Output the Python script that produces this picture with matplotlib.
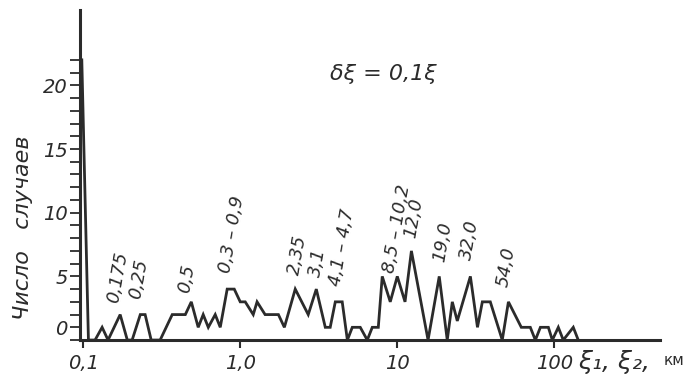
import numpy as np
import matplotlib
matplotlib.use("Agg")
import matplotlib.pyplot as plt
from matplotlib.transforms import ScaledTranslation

# ширина трещин (км) и число случаев
xi = [0.098, 0.108, 0.119, 0.132, 0.144, 0.172, 0.191, 0.205, 0.231, 0.248,
      0.271, 0.309, 0.369, 0.447, 0.488, 0.540, 0.581, 0.626, 0.693, 0.746,
      0.826, 0.916, 1.0, 1.076, 1.21, 1.28, 1.44, 1.75, 1.91, 2.24,
      2.71, 3.05, 3.48, 3.74, 4.03, 4.46, 4.81, 5.17, 5.81, 6.44,
      6.93, 7.57, 8.02, 9.02, 10.0, 11.2, 12.3, 15.7, 18.5, 20.8,
      22.4, 24.1, 29.2, 32.4, 34.8, 39.1, 46.6, 51.0, 61.6, 70.3,
      75.7, 81.5, 91.6, 97.1, 106, 114, 132, 142]
counts = [22, 0, 0, 1, 0, 2, 0, 0, 2, 2,
          0, 0, 2, 2, 3, 1, 2, 1, 2, 1,
          4, 4, 3, 3, 2, 3, 2, 2, 1, 4,
          2, 4, 1, 1, 3, 3, 0, 1, 1, 0,
          1, 1, 5, 3, 5, 3, 7, 0, 5, 0,
          3, 1.5, 5, 1, 3, 3, 0, 3, 1, 1,
          0, 1, 1, 0, 1, 0, 1, 0]

# подписи пиков
peak_labels = ['0,175', '0,25', '0,5', '0,3 – 0,9', '2,35', '3,1', '4,1 – 4,7',
               '8,5 – 10,2', '12,0', '19,0', '32,0', '54,0']
peak_x = [0.167, 0.227, 0.459, 0.889, 2.31, 3.09, 4.46, 10.0, 12.8, 19.4, 28.8, 49.5]
peak_y = [4.94, 4.78, 4.86, 8.31, 6.67, 6.04, 7.29, 8.78, 9.57, 7.69, 7.84, 5.73]

x_ticks = [0.1, 1, 10, 100]
x_ticklabels = ['0,1', '1,0', '10', '100']
y_ticks = [0, 5, 10, 15, 20]

ink = '#2b2b2b'

fig = plt.figure(figsize=(6.9, 3.77), dpi=100)
ax = fig.add_axes([0.116, 0.098, 0.841, 0.875])

ax.plot(xi, counts, color=ink, lw=2.0, solid_joinstyle='miter')

ax.set_xscale('log')
ax.set_xlim(0.0955, 473)
ax.set_ylim(0, 25.9)

for s in ['top', 'right']:
    ax.spines[s].set_visible(False)
for s in ['left', 'bottom']:
    ax.spines[s].set_linewidth(2.2)
    ax.spines[s].set_color(ink)

ax.set_xticks(x_ticks)
ax.set_xticklabels(x_ticklabels, fontsize=14, style='italic', color=ink)
ax.xaxis.set_minor_locator(matplotlib.ticker.NullLocator())
ax.tick_params(axis='x', length=6, width=1.5, color=ink, pad=4)

ax.set_yticks(y_ticks)
ax.set_yticklabels([str(v) for v in y_ticks], fontsize=14, style='italic', color=ink)
ax.set_yticks(np.arange(1, 23), minor=True)
ax.tick_params(axis='y', which='both', length=7, width=1.3, color=ink, pad=2)
# "0" поднят над осью
lbl0 = ax.get_yticklabels()[0]
lbl0.set_transform(lbl0.get_transform() + ScaledTranslation(0, 9 / 72, fig.dpi_scale_trans))

for t, x, y in zip(peak_labels, peak_x, peak_y):
    ax.text(x, y, t, rotation=80, ha='center', va='center', fontsize=13,
            style='italic', color=ink)

fig.text(0.555, 0.805, 'δξ = 0,1ξ', fontsize=16, style='italic', color=ink,
         ha='center', va='center')

fig.text(0.034, 0.395, 'Число   случаев', rotation=90, fontsize=16, style='italic',
         color=ink, ha='center', va='center')

fig.text(0.838, 0.04, 'ξ₁, ξ₂,', fontsize=18, style='italic', color=ink,
         ha='left', va='center')
fig.text(0.962, 0.045, 'км', fontsize=11, color=ink, ha='left', va='center')

fig.savefig('out.png', dpi=100, facecolor='white')
